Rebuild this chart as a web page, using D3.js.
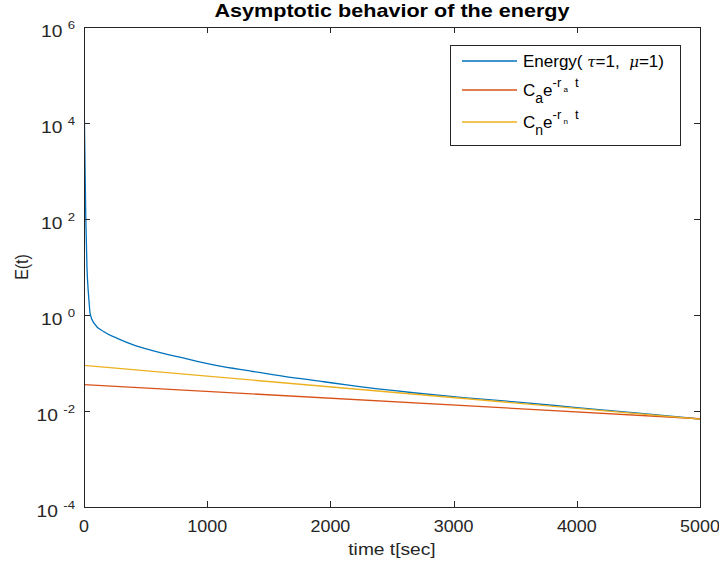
<!DOCTYPE html>
<html>
<head>
<meta charset="utf-8">
<script src="https://cdn.jsdelivr.net/npm/d3@7"></script>
<style>
  body { margin: 0; background: #fff; }
  svg { display: block; font-family: "Liberation Sans", Arial, sans-serif; }
  text { white-space: pre; }
</style>
</head>
<body>
<svg id="chart" width="719" height="568"></svg>
<script>
// DATA
const energyTime = [0, 14, 24, 36, 44, 50, 81, 162, 270, 406, 541, 812, 1082, 1353, 1623, 1948, 2132, 2673, 3079, 3500, 4000, 4500, 5000];
const energyValue = [46800, 126, 10, 2.8, 1.5, 1.05, 0.676, 0.447, 0.327, 0.237, 0.186, 0.126, 0.0879, 0.068, 0.0528, 0.0407, 0.035, 0.024, 0.019, 0.0155, 0.0118, 0.0090, 0.0068];

const fitTime = [0, 5000];
const fitAValue = [0.0355, 0.0069];
const fitNValue = [0.089, 0.0068];

const xTicks = [0, 1000, 2000, 3000, 4000, 5000];
const yExponents = [-4, -2, 0, 2, 4, 6];

const titleText = "Asymptotic behavior of the energy";
const xLabelText = "time t[sec]";
const yLabelText = "E(t)";

const colors = { energy: "#0072BD", fitA: "#D95319", fitN: "#EDB120", axis: "#262626" };

// LAYOUT
const margin = { left: 84, right: 19, top: 27, bottom: 61 };
const width = 719, height = 568;
const plotW = width - margin.left - margin.right;
const plotH = height - margin.top - margin.bottom;
const stretch = 1.2; // the figure text is wider than it is tall

const svg = d3.select("#chart");

const x = d3.scaleLinear().domain([0, 5000]).range([margin.left, margin.left + plotW]);
const y = d3.scaleLog().domain([1e-4, 1e6]).range([margin.top + plotH, margin.top]);

svg.append("clipPath").attr("id", "clip")
  .append("rect")
  .attr("x", margin.left).attr("y", margin.top)
  .attr("width", plotW).attr("height", plotH);

// TEXT HELPER
function wideText(parent, px, py, size, anchor, sx = stretch) {
  return parent.append("text")
    .attr("transform", `translate(${px},${py}) scale(${sx},1)`)
    .attr("text-anchor", anchor)
    .attr("font-size", size)
    .attr("fill", colors.axis);
}

// LINES
const line = d3.line()
  .x(d => x(d[0]))
  .y(d => y(d[1]))
  .curve(d3.curveMonotoneX);

const series = [
  { t: energyTime, v: energyValue, color: colors.energy },
  { t: fitTime, v: fitAValue, color: colors.fitA },
  { t: fitTime, v: fitNValue, color: colors.fitN }
];

const lineGroup = svg.append("g").attr("clip-path", "url(#clip)");
series.forEach(s => {
  lineGroup.append("path")
    .datum(d3.zip(s.t, s.v))
    .attr("fill", "none")
    .attr("stroke", s.color)
    .attr("stroke-width", 1.3)
    .attr("d", line);
});

// AXES BOX + TICKS
const axisG = svg.append("g").attr("stroke", colors.axis).attr("stroke-width", 1);
axisG.append("rect")
  .attr("x", margin.left + 0.5).attr("y", margin.top + 0.5)
  .attr("width", plotW).attr("height", plotH)
  .attr("fill", "none");

const tickLen = 6;
xTicks.forEach(t => {
  const px = Math.round(x(t)) + 0.5;
  axisG.append("line").attr("x1", px).attr("x2", px)
    .attr("y1", margin.top + plotH).attr("y2", margin.top + plotH - tickLen);
  axisG.append("line").attr("x1", px).attr("x2", px)
    .attr("y1", margin.top).attr("y2", margin.top + tickLen);
});
yExponents.forEach(e => {
  const py = Math.round(y(Math.pow(10, e))) + 0.5;
  axisG.append("line").attr("x1", margin.left).attr("x2", margin.left + tickLen)
    .attr("y1", py).attr("y2", py);
  axisG.append("line").attr("x1", margin.left + plotW).attr("x2", margin.left + plotW - tickLen)
    .attr("y1", py).attr("y2", py);
});

// TICK LABELS
xTicks.forEach(t => {
  wideText(svg, x(t), margin.top + plotH + 25, 16, "middle", 1.12).text(t);
});

yExponents.forEach(e => {
  const lbl = wideText(svg, margin.left - 9, y(Math.pow(10, e)) + 10, 16, "end");
  lbl.append("tspan").text("10 ");
  lbl.append("tspan").attr("dy", -8).attr("font-size", 11).text(e);
});

// TITLES
wideText(svg, margin.left + plotW / 2, 17, 18, "middle", 1.2)
  .attr("font-weight", "bold")
  .attr("fill", "#000")
  .text(titleText);

wideText(svg, margin.left + plotW / 2, 555, 16, "middle").text(xLabelText);

svg.append("text")
  .attr("transform", `translate(28, ${margin.top + plotH / 2}) rotate(-90) scale(1,${stretch})`)
  .attr("text-anchor", "middle")
  .attr("font-size", 16).attr("fill", colors.axis)
  .text(yLabelText);

// LEGEND
const legend = svg.append("g");
legend.append("rect")
  .attr("x", 450.5).attr("y", 45.5).attr("width", 230).attr("height", 100)
  .attr("fill", "#fff").attr("stroke", colors.axis).attr("stroke-width", 1);

const rows = [61, 90, 122];
series.forEach((s, i) => {
  legend.append("line")
    .attr("x1", 462).attr("x2", 517)
    .attr("y1", rows[i]).attr("y2", rows[i])
    .attr("stroke", s.color).attr("stroke-width", 1.3);
});

const greek = "DejaVu Serif, serif";
const entry0 = legend.append("text").attr("x", 523).attr("y", rows[0] + 6)
  .attr("font-size", 17).attr("fill", "#000");
entry0.append("tspan").text("Energy( ");
entry0.append("tspan").attr("font-style", "italic").attr("font-family", greek).attr("font-size", 15).text("τ");
entry0.append("tspan").text("=1,  ");
entry0.append("tspan").attr("font-style", "italic").attr("font-family", greek).attr("font-size", 15).text("μ");
entry0.append("tspan").text("=1)");

function expEntry(row, sub) {
  const t = legend.append("text").attr("x", 523).attr("y", row + 6)
    .attr("font-size", 17).attr("fill", "#000");
  t.append("tspan").text("C");
  t.append("tspan").attr("dy", 7).attr("font-size", 14).text(sub);
  t.append("tspan").attr("dy", -7).text("e");
  t.append("tspan").attr("dy", -9).attr("font-size", 13).text("-r");
  t.append("tspan").attr("dy", 5).attr("font-size", 8).text(" " + sub);
  t.append("tspan").attr("dy", -5).attr("font-size", 13).text("  t");
}
expEntry(rows[1], "a");
expEntry(rows[2], "n");
</script>
</body>
</html>
